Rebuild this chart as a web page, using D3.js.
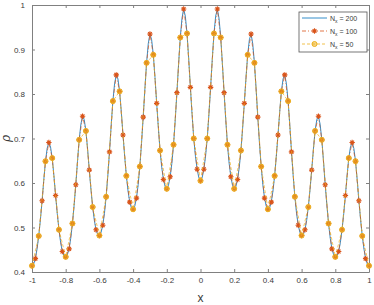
<!DOCTYPE html>
<html>
<head>
<meta charset="utf-8">
<script src="https://cdn.jsdelivr.net/npm/d3@7"></script>
<style>
  body { margin: 0; background: #fff; }
  svg { display: block; font-family: "Liberation Sans", Arial, sans-serif; }
</style>
</head>
<body>
<svg id="vis" width="374" height="305"></svg>
<script>
var xDomain = [-1, 1];
var yDomain = [0.4, 1];
var xTicks = [-1, -0.8, -0.6, -0.4, -0.2, 0, 0.2, 0.4, 0.6, 0.8, 1];
var yTicks = [0.4, 0.5, 0.6, 0.7, 0.8, 0.9, 1];

// Nx = 200, step 0.01
var rho200 = [
    0.414,0.418,0.430,0.452,0.481,0.518,0.560,0.607,0.649,0.678,
    0.691,0.681,0.656,0.617,0.572,0.531,0.495,0.466,0.446,0.436,
    0.434,0.439,0.452,0.476,0.509,0.550,0.596,0.649,0.697,0.732,
    0.750,0.742,0.717,0.676,0.629,0.585,0.546,0.516,0.495,0.484,
    0.482,0.489,0.505,0.532,0.569,0.616,0.670,0.730,0.784,0.823,
    0.843,0.834,0.806,0.760,0.708,0.660,0.616,0.582,0.557,0.544,
    0.541,0.548,0.566,0.596,0.637,0.689,0.748,0.812,0.870,0.913,
    0.935,0.922,0.888,0.837,0.779,0.723,0.673,0.635,0.608,0.592,
    0.587,0.595,0.614,0.644,0.686,0.741,0.803,0.868,0.927,0.970,
    0.991,0.975,0.936,0.879,0.815,0.754,0.700,0.660,0.631,0.612,
    0.605,
    0.612,0.631,0.660,0.700,0.754,0.815,0.879,0.936,0.975,0.991,
    0.970,0.927,0.868,0.803,0.741,0.686,0.644,0.614,0.595,0.587,
    0.592,0.608,0.635,0.673,0.723,0.779,0.837,0.888,0.922,0.935,
    0.913,0.870,0.812,0.748,0.689,0.637,0.596,0.566,0.548,0.541,
    0.544,0.557,0.582,0.616,0.660,0.708,0.760,0.806,0.834,0.843,
    0.823,0.784,0.730,0.670,0.616,0.569,0.532,0.505,0.489,0.482,
    0.484,0.495,0.516,0.546,0.585,0.629,0.676,0.717,0.742,0.750,
    0.732,0.697,0.649,0.596,0.550,0.509,0.476,0.452,0.439,0.434,
    0.436,0.446,0.466,0.495,0.531,0.572,0.617,0.656,0.681,0.691,
    0.678,0.649,0.607,0.560,0.518,0.481,0.452,0.430,0.418,0.414
];

// Nx = 100, step 0.02
var rho100 = [
    0.414,0.430,0.481,0.560,0.649,0.691,0.656,0.572,0.495,0.446,
    0.434,0.452,0.509,0.596,0.697,0.750,0.717,0.629,0.546,0.495,
    0.482,0.505,0.569,0.670,0.784,0.843,0.806,0.708,0.616,0.557,
    0.541,0.566,0.637,0.748,0.870,0.935,0.888,0.779,0.673,0.608,
    0.587,0.614,0.686,0.803,0.927,0.991,0.936,0.815,0.700,0.631,
    0.605,
    0.631,0.700,0.815,0.936,0.991,0.927,0.803,0.686,0.614,0.587,
    0.608,0.673,0.779,0.888,0.935,0.870,0.748,0.637,0.566,0.541,
    0.557,0.616,0.708,0.806,0.843,0.784,0.670,0.569,0.505,0.482,
    0.495,0.546,0.629,0.717,0.750,0.697,0.596,0.509,0.452,0.434,
    0.446,0.495,0.572,0.656,0.691,0.649,0.560,0.481,0.430,0.414
];

// Nx = 50, step 0.04
var rho50 = [
    0.414,0.481,0.649,0.656,0.495,0.434,0.509,0.697,0.717,0.546,
    0.482,0.569,0.784,0.806,0.616,0.541,0.637,0.870,0.888,0.673,
    0.587,0.686,0.927,0.936,0.700,
    0.605,
    0.700,0.936,0.927,0.686,0.587,0.673,0.888,0.870,0.637,0.541,
    0.616,0.806,0.784,0.569,0.482,0.546,0.717,0.697,0.509,0.434,
    0.495,0.656,0.649,0.481,0.414
];

var seriesNames = ['200', '100', '50'];

var margin = {t: 5, r: 5, b: 33, l: 32};
var svg = d3.select('#vis');
var W = +svg.attr('width'), H = +svg.attr('height');
var width = W - margin.l - margin.r;
var height = H - margin.t - margin.b;

var x = d3.scaleLinear().domain(xDomain).range([0, width]);
var y = d3.scaleLinear().domain(yDomain).range([height, 0]);

var g = svg.append('g')
    .attr('transform', 'translate(' + margin.l + ',' + margin.t + ')');

function toPoints(vals) {
    var n = vals.length - 1;
    return vals.map(function (v, i) {
        return {x: xDomain[0] + (xDomain[1] - xDomain[0]) * i / n, y: v};
    });
}

var axisColor = '#808080';
var textColor = '#3a3a3a';
var tickLen = 3;

// axes (ticks inward, box all round)
var xAxis = g.append('g')
    .attr('transform', 'translate(0,' + height + ')')
    .call(d3.axisBottom(x).tickValues(xTicks).tickSizeInner(-tickLen).tickSizeOuter(0).tickPadding(5)
        .tickFormat(function (d) { return d3.format('')(d).replace('\u2212', '-'); }));
var xTop = g.append('g')
    .call(d3.axisTop(x).tickValues(xTicks).tickSizeInner(-tickLen).tickSizeOuter(0).tickFormat(''));
var yAxis = g.append('g')
    .call(d3.axisLeft(y).tickValues(yTicks).tickSizeInner(-tickLen).tickSizeOuter(0).tickPadding(7)
        .tickFormat(function (d) { return d3.format('')(d); }));
var yRight = g.append('g')
    .attr('transform', 'translate(' + width + ',0)')
    .call(d3.axisRight(y).tickValues(yTicks).tickSizeInner(-tickLen).tickSizeOuter(0).tickFormat(''));

[xAxis, xTop, yAxis, yRight].forEach(function (a) {
    a.selectAll('path').attr('stroke', axisColor).attr('stroke-width', 1);
    a.selectAll('line').attr('stroke', axisColor);
    a.selectAll('text').attr('fill', textColor).style('font-size', '8px')
        .style('font-family', '"Liberation Sans", Arial, sans-serif');
});

// axis titles
svg.append('text')
    .attr('x', margin.l + x(0))
    .attr('y', H - 3)
    .attr('fill', textColor)
    .style('font-size', '12px')
    .style('text-anchor', 'middle')
    .text('x');

svg.append('text')
    .attr('transform', 'translate(10,' + (margin.t + y(0.7)) + ') rotate(-90)')
    .attr('fill', textColor)
    .style('font-size', '12px')
    .style('font-style', 'italic')
    .style('font-family', '"DejaVu Serif", serif')
    .style('text-anchor', 'middle')
    .text('\u03c1');

var line = d3.line()
    .x(function (d) { return x(d.x); })
    .y(function (d) { return y(d.y); });

var blue = '#0072BD', orange = '#D95319', yellow = '#EDB120';

function star(sel, r) {
    sel.append('path')
        .attr('d', 'M' + (-r) + ',0H' + r + 'M0,' + (-r) + 'V' + r +
            'M' + (-r * 0.7) + ',' + (-r * 0.7) + 'L' + (r * 0.7) + ',' + (r * 0.7) +
            'M' + (-r * 0.7) + ',' + (r * 0.7) + 'L' + (r * 0.7) + ',' + (-r * 0.7))
        .attr('stroke', orange)
        .attr('stroke-width', 1.1)
        .attr('fill', 'none');
}

// Nx = 200
g.append('path')
    .datum(toPoints(rho200))
    .attr('d', line)
    .attr('fill', 'none')
    .attr('stroke', blue)
    .attr('stroke-width', 0.8);

// Nx = 100
var p100 = toPoints(rho100);
g.append('path')
    .datum(p100)
    .attr('d', line)
    .attr('fill', 'none')
    .attr('stroke', orange)
    .attr('stroke-width', 0.7)
    .attr('stroke-dasharray', '4,2,1,2');

g.selectAll('.m100')
    .data(p100)
    .enter().append('g')
    .attr('class', 'm100')
    .attr('transform', function (d) { return 'translate(' + x(d.x) + ',' + y(d.y) + ')'; })
    .each(function () { star(d3.select(this), 2.7); });

// Nx = 50
var p50 = toPoints(rho50);
g.append('path')
    .datum(p50)
    .attr('d', line)
    .attr('fill', 'none')
    .attr('stroke', yellow)
    .attr('stroke-width', 0.7)
    .attr('stroke-dasharray', '3,2');

g.selectAll('.m50')
    .data(p50)
    .enter().append('circle')
    .attr('class', 'm50')
    .attr('cx', function (d) { return x(d.x); })
    .attr('cy', function (d) { return y(d.y); })
    .attr('r', 2.5)
    .attr('fill', yellow)
    .attr('fill-opacity', 0.55)
    .attr('stroke', yellow)
    .attr('stroke-width', 1);

// legend
var legend = svg.append('g')
    .attr('transform', 'translate(299,12)');

legend.append('rect')
    .attr('width', 68)
    .attr('height', 40)
    .attr('fill', '#fff')
    .attr('stroke', '#555')
    .attr('stroke-width', 0.8);

var legRows = legend.selectAll('.leg')
    .data(seriesNames)
    .enter().append('g')
    .attr('class', 'leg')
    .attr('transform', function (d, i) { return 'translate(0,' + (6 + i * 13) + ')'; });

legRows.append('line')
    .attr('x1', 3).attr('x2', 28)
    .attr('y1', 0).attr('y2', 0)
    .attr('stroke', function (d, i) { return [blue, orange, yellow][i]; })
    .attr('stroke-width', 0.8)
    .attr('stroke-dasharray', function (d, i) { return [null, '4,2,1,2', '3,2'][i]; });

legRows.filter(function (d, i) { return i === 1; })
    .append('g')
    .attr('transform', 'translate(15.5,0)')
    .each(function () { star(d3.select(this), 2.7); });

legRows.filter(function (d, i) { return i === 2; })
    .append('circle')
    .attr('cx', 15.5).attr('cy', 0).attr('r', 2.5)
    .attr('fill', yellow).attr('fill-opacity', 0.55)
    .attr('stroke', yellow);

var legText = legRows.append('text')
    .attr('x', 31)
    .attr('y', 2.5)
    .attr('fill', textColor)
    .style('font-size', '7px');
legText.append('tspan').text('N');
legText.append('tspan').attr('dy', 2).style('font-size', '5px').text('x');
legText.append('tspan').attr('dy', -2).text(function (d) { return ' = ' + d; });
</script>
</body>
</html>
